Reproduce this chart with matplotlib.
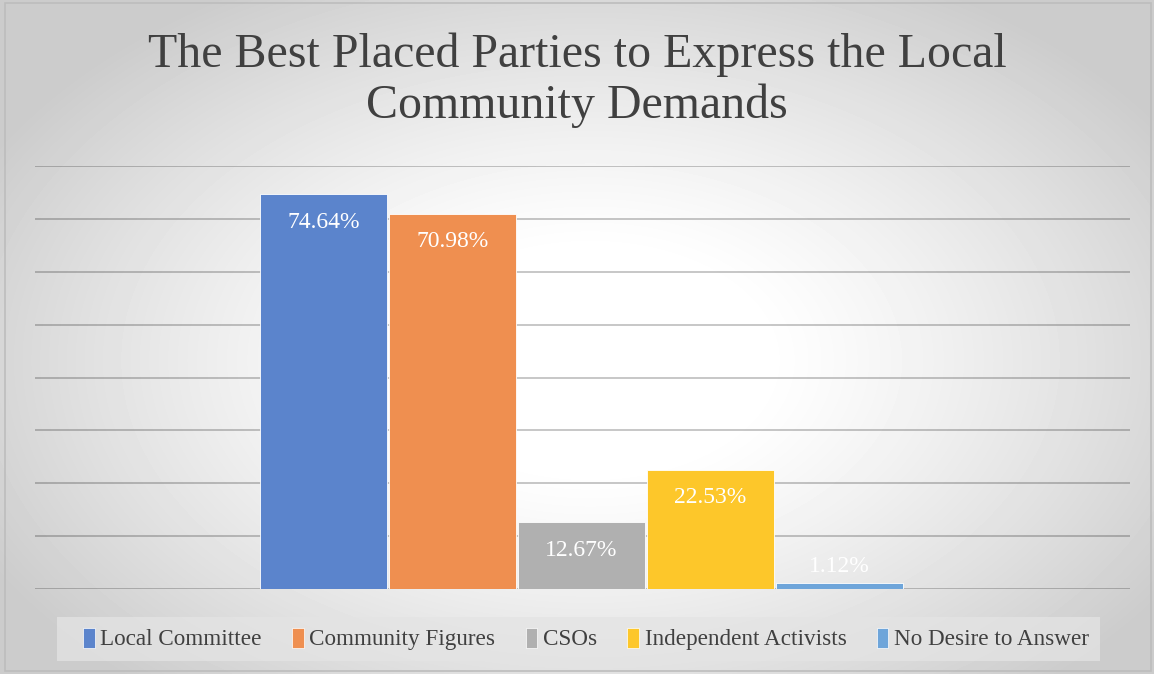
import matplotlib.pyplot as plt
import numpy as np
from matplotlib.patches import Patch, Rectangle

series = ["Local Committee", "Community Figures", "CSOs", "Independent Activists", "No Desire to Answer"]
values = [74.64, 70.98, 12.67, 22.53, 1.12]
labels = ["74.64%", "70.98%", "12.67%", "22.53%", "1.12%"]
colors = ["#5b84cc", "#ef8f50", "#b0b0b0", "#fdc72a", "#6ea5da"]

serif = ["Liberation Serif", "DejaVu Serif"]

fig = plt.figure(figsize=(11.54, 6.74), dpi=100)

# radial gradient background
bg = fig.add_axes([0, 0, 1, 1], zorder=-10)
yy, xx = np.mgrid[0:674, 0:1154]
r = np.sqrt(((xx - 590) / 680.0) ** 2 + ((yy - 360) / 430.0) ** 2)
shade = 1 - 0.2 * np.clip((r - 0.25) / 0.75, 0, 1) ** 1.2
bg.imshow(shade, cmap="gray", vmin=0, vmax=1, aspect="auto", extent=[0, 1, 0, 1])
bg.add_patch(Rectangle((0.004, 0.004), 0.993, 0.992, fill=False, edgecolor="#bdbdbd", lw=1.2))
# legend backing box
bg.add_patch(Rectangle((57 / 1154, 1 - 661 / 674), 1043 / 1154, 44 / 674,
                       facecolor="#e4e4e4", edgecolor="none", alpha=0.75))
bg.set_xlim(0, 1)
bg.set_ylim(0, 1)
bg.axis("off")

ax = fig.add_axes([35 / 1154, 1 - 589 / 674, 1095 / 1154, 423 / 674])
ax.patch.set_alpha(0)
x = np.arange(len(values)) - 2
bars = ax.bar(x, values, width=0.985, color=colors, edgecolor="white", linewidth=0.6, zorder=3)
for b, v, lab in zip(bars, values, labels):
    if v > 5:
        y = v - 5.3
    else:
        y = v + 3.2
    ax.text(b.get_x() + b.get_width() / 2, y, lab, ha="center", va="center",
            color="white", fontsize=17, family=serif, zorder=4)

ax.set_xlim(-4.237, 4.253)
ax.set_ylim(0, 80)
ax.set_yticks(np.arange(0, 81, 10))
ax.yaxis.grid(True, color="black", alpha=0.24, lw=1.3, zorder=0)
ax.tick_params(left=False, bottom=False, labelleft=False, labelbottom=False)
for s in ax.spines.values():
    s.set_visible(False)

fig.text(0.5, 1 - 80 / 674, "The Best Placed Parties to Express the Local\nCommunity Demands",
         ha="center", va="center", fontsize=34.5, color="#404040", family=serif, linespacing=1.18)

handles = [Patch(facecolor=c, edgecolor="white", lw=0.5) for c in colors]
fig.legend(handles, series, loc="center", bbox_to_anchor=(586 / 1154, 1 - 639 / 674),
           ncol=5, frameon=False, prop={"family": serif, "size": 16.7},
           handlelength=0.5, handleheight=0.95, handletextpad=0.25, columnspacing=1.3,
           labelcolor="#404040")

fig.savefig("out.png", dpi=100)
